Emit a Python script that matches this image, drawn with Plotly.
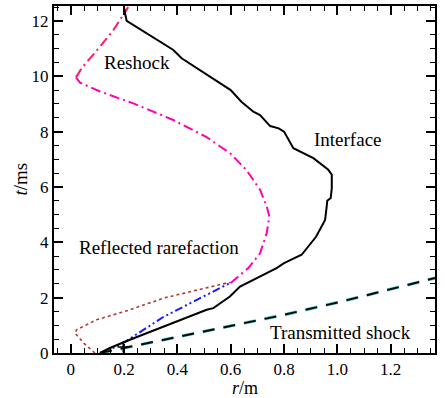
import plotly.graph_objects as go

# Interface (black solid)
iface_r = [0.11, 0.147, 0.222, 0.347, 0.51, 0.535, 0.597, 0.635, 0.772, 0.80, 0.866, 0.92, 0.954, 0.96, 0.962, 0.975, 0.979, 0.979, 0.966, 0.91, 0.835, 0.80, 0.78, 0.748, 0.71, 0.685, 0.64, 0.60, 0.52, 0.416, 0.385, 0.21, 0.204, 0.20]
iface_t = [0.0, 0.18, 0.48, 0.96, 1.56, 1.62, 2.04, 2.4, 3.07, 3.25, 3.55, 4.2, 4.81, 5.3, 5.5, 5.6, 5.96, 6.44, 6.62, 7.04, 7.4, 8.0, 8.12, 8.2, 8.6, 8.72, 9.08, 9.5, 10.0, 10.65, 10.95, 12.0, 12.27, 12.5]

# Reflected rarefaction head (magenta dash-dot)
refl_r = [0.60, 0.666, 0.71, 0.735, 0.745, 0.735, 0.71, 0.66, 0.60, 0.51, 0.385, 0.235, 0.11, 0.035, 0.02]
refl_t = [2.53, 3.07, 3.6, 4.33, 4.93, 5.3, 5.9, 6.6, 7.2, 7.8, 8.42, 9.02, 9.45, 9.77, 9.96]

# Reshock (pink dash-dot)
resh_r = [0.02, 0.041, 0.11, 0.16, 0.216]
resh_t = [9.96, 10.29, 11.07, 11.67, 12.5]

# Blue dash-dot-dot
blue_r = [0.12, 0.2, 0.347, 0.45, 0.597]
blue_t = [0.0, 0.38, 1.3, 1.8, 2.53]

# Rarefaction tail (dotted)
tail_r = [0.091, 0.05, 0.016, 0.022, 0.097, 0.222, 0.347, 0.472, 0.585, 0.60]
tail_t = [0.0, 0.35, 0.72, 0.84, 1.2, 1.56, 1.98, 2.28, 2.53, 2.55]

# Transmitted shock (dashed)
shock_r = [0.11, 0.2, 0.51, 0.80, 1.02, 1.366]
shock_t = [0.0, 0.18, 0.78, 1.38, 1.87, 2.71]

x_ticks = [0, 0.2, 0.4, 0.6, 0.8, 1.0, 1.2]
x_labels = ["0", "0.2", "0.4", "0.6", "0.8", "1.0", "1.2"]
y_ticks = [0, 2, 4, 6, 8, 10, 12]

labels = [
    ("Reshock", 0.25, 10.5),
    ("Interface", 1.04, 7.7),
    ("Reflected rarefaction", 0.33, 3.8),
    ("Transmitted shock", 1.01, 0.75),
]

FONT = "Liberation Serif, DejaVu Serif, serif"

fig = go.Figure()
fig.add_trace(go.Scatter(x=tail_r, y=tail_t, mode="lines",
                         line=dict(color="#b03a3a", width=1.6, dash="dot")))
fig.add_trace(go.Scatter(x=blue_r, y=blue_t, mode="lines",
                         line=dict(color="#1a1aff", width=2, dash="8px,3px,2px,3px,2px,3px")))
fig.add_trace(go.Scatter(x=shock_r, y=shock_t, mode="lines",
                         line=dict(color="#5fd0d0", width=3.2, dash="12px,9px")))
fig.add_trace(go.Scatter(x=shock_r, y=shock_t, mode="lines",
                         line=dict(color="#0a0a0a", width=2, dash="12px,9px")))
fig.add_trace(go.Scatter(x=refl_r, y=refl_t, mode="lines",
                         line=dict(color="#ff00b4", width=2, dash="10px,4px,2px,4px")))
fig.add_trace(go.Scatter(x=resh_r, y=resh_t, mode="lines",
                         line=dict(color="#ff1a6a", width=2, dash="10px,4px,2px,4px")))
fig.add_trace(go.Scatter(x=iface_r, y=iface_t, mode="lines",
                         line=dict(color="black", width=2)))
fig.add_trace(go.Scatter(x=[0.197], y=[0.22], mode="markers",
                         marker=dict(symbol="cross-thin", size=8, line=dict(color="black", width=1.5))))

for txt, x, y in labels:
    fig.add_annotation(x=x, y=y, text=txt, showarrow=False,
                       font=dict(family=FONT, size=19, color="black"))

fig.add_annotation(x=0.5, xref="paper", y=0, yref="paper", yshift=-35, yanchor="middle",
                   text="<i>r</i>/m", showarrow=False,
                   font=dict(family=FONT, size=18, color="black"))
fig.add_annotation(x=0, xref="paper", xshift=-34, y=0.5, yref="paper", xanchor="center",
                   textangle=-90, text="<i>t</i>/ms", showarrow=False,
                   font=dict(family=FONT, size=19, color="black"))

axis_common = dict(showgrid=False, zeroline=False, showline=True, linecolor="black",
                   linewidth=2, mirror="allticks", ticks="inside", ticklen=9,
                   tickwidth=2, tickcolor="black",
                   tickfont=dict(family=FONT, size=17, color="black"))

fig.update_xaxes(range=[-0.0625, 1.366], tickvals=x_ticks, ticktext=x_labels,
                 minor=dict(dtick=0.05, ticks="inside", ticklen=5, tickwidth=1, tickcolor="black"),
                 **axis_common)
fig.update_yaxes(range=[0, 12.54], tickvals=y_ticks,
                 minor=dict(dtick=0.5, ticks="inside", ticklen=5, tickwidth=1, tickcolor="black"),
                 **axis_common)

fig.update_layout(width=445, height=398, showlegend=False,
                  font=dict(family=FONT),
                  margin=dict(l=54, r=10, t=6, b=45, autoexpand=False),
                  paper_bgcolor="white", plot_bgcolor="white")
fig.write_html("out.html")
